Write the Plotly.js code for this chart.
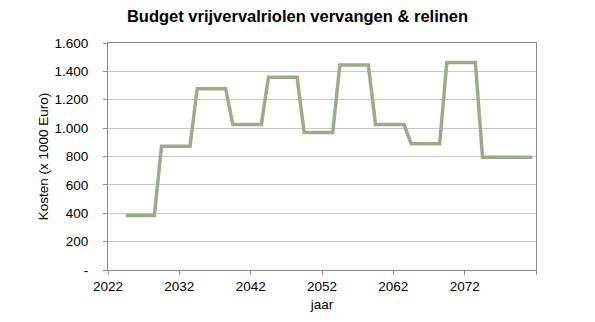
<!DOCTYPE html>
<html>
<head>
<meta charset="utf-8">
<script src="https://cdn.plot.ly/plotly-3.0.1.min.js"></script>
<style>html,body{margin:0;padding:0;background:#fff;}#chart{width:595px;height:322px;}</style>
</head>
<body>
<div id="chart"></div>
<script>
const years = [2024,2025,2026,2027,2028,2029,2030,2031,2032,2033,2034,2035,2036,2037,2038,2039,2040,2041,2042,2043,2044,2045,2046,2047,2048,2049,2050,2051,2052,2053,2054,2055,2056,2057,2058,2059,2060,2061,2062,2063,2064,2065,2066,2067,2068,2069,2070,2071,2072,2073,2074,2075,2076,2077,2078,2079,2080,2081];
const kosten = [385,385,385,385,385, 872,872,872,872,872, 1278,1278,1278,1278,1278, 1025,1025,1025,1025,1025, 1358,1358,1358,1358,1358, 970,970,970,970,970, 1445,1445,1445,1445,1445, 1025,1025,1025,1025,1025, 890,890,890,890,890, 1463,1463,1463,1463,1463, 795,795,795,795,795,795,795,795];
const xTickVals = [2021.5,2031.5,2041.5,2051.5,2061.5,2071.5,2081.5];
const xTickText = ['2022','2032','2042','2052','2062','2072',''];
const yTickVals = [0,200,400,600,800,1000,1200,1400,1600];
const yTickText = ['-','200','400','600','800','1.000','1.200','1.400','1.600'];

const font = 'Liberation Sans, Arial, sans-serif';
Plotly.newPlot('chart', [{
  x: years, y: kosten, type: 'scatter', mode: 'lines',
  line: {color: '#9bac89', width: 3.5}, hoverinfo: 'skip'
}], {
  width: 595, height: 322,
  margin: {l: 108, r: 59, t: 43, b: 52},
  paper_bgcolor: '#fff', plot_bgcolor: '#fff',
  font: {family: font, color: '#000', size: 13.5},
  showlegend: false,
  title: {text: '<b>Budget vrijvervalriolen vervangen &amp; relinen</b>', x: 0.5, xanchor: 'center', y: 0.95, yanchor: 'middle', font: {family: font, size: 16.5, color: '#000'}},
  xaxis: {
    range: [2021.5, 2081.5], tickmode: 'array', tickvals: xTickVals, ticktext: xTickText,
    showgrid: false, zeroline: false, showline: true, linecolor: '#8c8c8c', linewidth: 1, mirror: true,
    ticks: 'outside', ticklen: 4, tickcolor: '#8c8c8c',
    title: {text: 'jaar', font: {family: font, size: 13.5}, standoff: 6},
    fixedrange: true
  },
  yaxis: {
    range: [0, 1600], tickmode: 'array', tickvals: yTickVals, ticktext: yTickText,
    showgrid: true, gridcolor: '#c8c8c8', gridwidth: 1, zeroline: false,
    showline: true, linecolor: '#8c8c8c', linewidth: 1, mirror: true,
    ticks: 'outside', ticklen: 4, tickcolor: '#8c8c8c', ticklabelstandoff: 12,
    title: {text: 'Kosten (x 1000 Euro)', font: {family: font, size: 13.5}, standoff: 2},
    fixedrange: true
  }
}, {displayModeBar: false, staticPlot: true});
</script>
</body>
</html>
